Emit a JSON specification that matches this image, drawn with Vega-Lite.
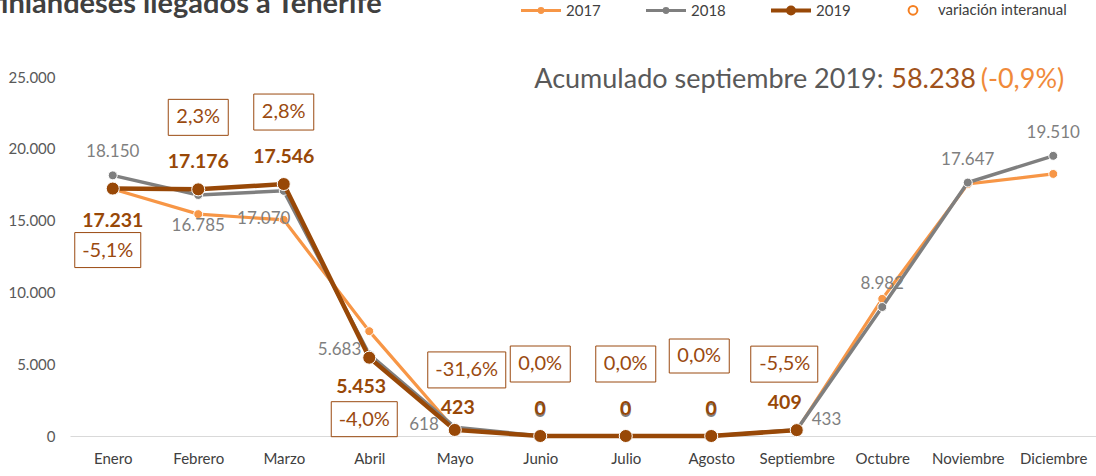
{
  "$schema": "https://vega.github.io/schema/vega-lite/v6.json",
  "width": 1026,
  "height": 359,
  "autosize": "none",
  "padding": {"left": 70, "top": 77, "right": 0, "bottom": 40},
  "background": "white",
  "config": {
    "locale": {"number": {"decimal": ",", "thousands": ".", "grouping": [3], "currency": ["", " €"], "minus": "-"}},
    "view": {"stroke": null},
    "font": "Lato",
    "text": {"font": "Lato"}
  },
  "datasets": {
    "meses": [
      {"mes": "Enero", "v2017": 17200, "v2018": 18150, "v2019": 17231, "variacion": -0.051},
      {"mes": "Febrero", "v2017": 15450, "v2018": 16785, "v2019": 17176, "variacion": 0.023},
      {"mes": "Marzo", "v2017": 15050, "v2018": 17070, "v2019": 17546, "variacion": 0.028},
      {"mes": "Abril", "v2017": 7300, "v2018": 5683, "v2019": 5453, "variacion": -0.040},
      {"mes": "Mayo", "v2017": 450, "v2018": 618, "v2019": 423, "variacion": -0.316},
      {"mes": "Junio", "v2017": 0, "v2018": 0, "v2019": 0, "variacion": 0},
      {"mes": "Julio", "v2017": 0, "v2018": 0, "v2019": 0, "variacion": 0},
      {"mes": "Agosto", "v2017": 0, "v2018": 0, "v2019": 0, "variacion": 0},
      {"mes": "Septiembre", "v2017": 400, "v2018": 433, "v2019": 409, "variacion": -0.055},
      {"mes": "Octubre", "v2017": 9550, "v2018": 8982, "v2019": null, "variacion": null},
      {"mes": "Noviembre", "v2017": 17550, "v2018": 17647, "v2019": null, "variacion": null},
      {"mes": "Diciembre", "v2017": 18250, "v2018": 19510, "v2019": null, "variacion": null}
    ],
    "nota": [{"titulo": "Turistas finlandeses llegados a Tenerife", "texto": "Acumulado septiembre 2019:", "cifra": "58.238", "variacion": "(-0,9%)"}]
  },
  "data": {"name": "meses"},
  "layer": [
    {
      "mark": {"type": "line", "color": "#F79646", "strokeWidth": 3.2, "point": {"filled": true, "fill": "#F79646", "stroke": "white", "strokeWidth": 1, "size": 80, "opacity": 1}},
      "encoding": {
        "x": {"field": "mes", "type": "ordinal", "title": null,
          "scale": {"type": "point", "padding": 0.5, "domain": ["Enero","Febrero","Marzo","Abril","Mayo","Junio","Julio","Agosto","Septiembre","Octubre","Noviembre","Diciembre"]},
          "axis": {"labelAngle": 0, "ticks": false, "domainColor": "#D9D9D9", "domainWidth": 1, "grid": false, "labelFont": "Lato", "labelFontSize": 15, "labelColor": "#404040", "labelPadding": 15}},
        "y": {"field": "v2017", "type": "quantitative", "title": null,
          "scale": {"domain": [0, 25000], "nice": false},
          "axis": {"values": [0, 5000, 10000, 15000, 20000, 25000], "format": ",d", "domain": false, "ticks": false, "grid": false, "labelFont": "Lato", "labelFontSize": 15, "labelColor": "#595959", "labelPadding": 15}}
      }
    },
    {
      "mark": {"type": "line", "color": "#7F7F7F", "strokeWidth": 3.5, "point": {"filled": true, "fill": "#7F7F7F", "stroke": "white", "strokeWidth": 1, "size": 80, "opacity": 1}},
      "encoding": {
        "x": {"field": "mes", "type": "ordinal"},
        "y": {"field": "v2018", "type": "quantitative", "title": null}
      }
    },
    {
      "mark": {"type": "line", "color": "#984807", "strokeWidth": 4.5, "point": {"filled": true, "fill": "#984807", "stroke": "white", "strokeWidth": 1, "size": 170, "opacity": 1}},
      "encoding": {
        "x": {"field": "mes", "type": "ordinal"},
        "y": {"field": "v2019", "type": "quantitative", "title": null}
      }
    },
    {
      "transform": [{"filter": {"field": "mes", "oneOf": ["Enero", "Octubre", "Noviembre", "Diciembre"]}}],
      "mark": {"type": "text", "font": "Lato", "fontSize": 17, "color": "#7F7F7F", "baseline": "middle", "dy": -23},
      "encoding": {"x": {"field": "mes", "type": "ordinal"}, "y": {"field": "v2018", "type": "quantitative"}, "text": {"field": "v2018", "type": "quantitative", "format": ",d"}}
    },
    {
      "transform": [{"filter": {"field": "mes", "oneOf": ["Junio", "Julio", "Agosto"]}}],
      "mark": {"type": "text", "font": "Lato", "fontSize": 19.5, "fontWeight": "bold", "color": "#7F7F7F", "baseline": "middle", "dy": -25.5},
      "encoding": {"x": {"field": "mes", "type": "ordinal"}, "y": {"field": "v2018", "type": "quantitative"}, "text": {"field": "v2018", "type": "quantitative", "format": ",d"}}
    },
    {
      "transform": [{"filter": {"field": "mes", "equal": "Febrero"}}],
      "mark": {"type": "text", "font": "Lato", "fontSize": 17, "color": "#7F7F7F", "baseline": "middle", "dy": 31},
      "encoding": {"x": {"field": "mes", "type": "ordinal"}, "y": {"field": "v2018", "type": "quantitative"}, "text": {"field": "v2018", "type": "quantitative", "format": ",d"}}
    },
    {
      "transform": [{"filter": {"field": "mes", "equal": "Marzo"}}],
      "mark": {"type": "text", "font": "Lato", "fontSize": 17, "color": "#7F7F7F", "baseline": "middle", "dx": -20, "dy": 28},
      "encoding": {"x": {"field": "mes", "type": "ordinal"}, "y": {"field": "v2018", "type": "quantitative"}, "text": {"field": "v2018", "type": "quantitative", "format": ",d"}}
    },
    {
      "transform": [{"filter": {"field": "mes", "equal": "Abril"}}],
      "mark": {"type": "text", "font": "Lato", "fontSize": 17, "color": "#7F7F7F", "baseline": "middle", "align": "right", "dx": -8, "dy": -4},
      "encoding": {"x": {"field": "mes", "type": "ordinal"}, "y": {"field": "v2018", "type": "quantitative"}, "text": {"field": "v2018", "type": "quantitative", "format": ",d"}}
    },
    {
      "transform": [{"filter": {"field": "mes", "equal": "Mayo"}}],
      "mark": {"type": "text", "font": "Lato", "fontSize": 17, "color": "#7F7F7F", "baseline": "middle", "align": "right", "dx": -16, "dy": -2},
      "encoding": {"x": {"field": "mes", "type": "ordinal"}, "y": {"field": "v2018", "type": "quantitative"}, "text": {"field": "v2018", "type": "quantitative", "format": ",d"}}
    },
    {
      "transform": [{"filter": {"field": "mes", "equal": "Septiembre"}}],
      "mark": {"type": "text", "font": "Lato", "fontSize": 17, "color": "#7F7F7F", "baseline": "middle", "align": "left", "dx": 15, "dy": -10},
      "encoding": {"x": {"field": "mes", "type": "ordinal"}, "y": {"field": "v2018", "type": "quantitative"}, "text": {"field": "v2018", "type": "quantitative", "format": ",d"}}
    },
    {
      "transform": [{"filter": {"field": "mes", "oneOf": ["Febrero", "Marzo", "Junio", "Julio", "Agosto"]}}],
      "mark": {"type": "text", "font": "Lato", "fontSize": 19.5, "fontWeight": "bold", "color": "#984807", "baseline": "middle", "dy": -27},
      "encoding": {"x": {"field": "mes", "type": "ordinal"}, "y": {"field": "v2019", "type": "quantitative"}, "text": {"field": "v2019", "type": "quantitative", "format": ",d"}}
    },
    {
      "transform": [{"filter": {"field": "mes", "equal": "Mayo"}}],
      "mark": {"type": "text", "font": "Lato", "fontSize": 19.5, "fontWeight": "bold", "color": "#984807", "baseline": "middle", "dx": 3, "dy": -22},
      "encoding": {"x": {"field": "mes", "type": "ordinal"}, "y": {"field": "v2019", "type": "quantitative"}, "text": {"field": "v2019", "type": "quantitative", "format": ",d"}}
    },
    {
      "transform": [{"filter": {"field": "mes", "equal": "Septiembre"}}],
      "mark": {"type": "text", "font": "Lato", "fontSize": 19.5, "fontWeight": "bold", "color": "#984807", "baseline": "middle", "dx": -12, "dy": -27},
      "encoding": {"x": {"field": "mes", "type": "ordinal"}, "y": {"field": "v2019", "type": "quantitative"}, "text": {"field": "v2019", "type": "quantitative", "format": ",d"}}
    },
    {
      "transform": [{"filter": {"field": "mes", "equal": "Enero"}}],
      "mark": {"type": "text", "font": "Lato", "fontSize": 19.5, "fontWeight": "bold", "color": "#984807", "baseline": "middle", "dy": 32},
      "encoding": {"x": {"field": "mes", "type": "ordinal"}, "y": {"field": "v2019", "type": "quantitative"}, "text": {"field": "v2019", "type": "quantitative", "format": ",d"}}
    },
    {
      "transform": [{"filter": {"field": "mes", "equal": "Abril"}}],
      "mark": {"type": "text", "font": "Lato", "fontSize": 19.5, "fontWeight": "bold", "color": "#984807", "baseline": "middle", "dx": -8, "dy": 29},
      "encoding": {"x": {"field": "mes", "type": "ordinal"}, "y": {"field": "v2019", "type": "quantitative"}, "text": {"field": "v2019", "type": "quantitative", "format": ",d"}}
    },
    {
      "transform": [{"filter": {"field": "mes", "oneOf": ["Enero", "Abril"]}}],
      "mark": {"type": "rect", "fillOpacity": 0, "stroke": "#9A4A10", "strokeWidth": 1, "xOffset": -38, "x2Offset": 28, "yOffset": 44, "y2Offset": 79},
      "encoding": {"x": {"field": "mes", "type": "ordinal"}, "x2": {"field": "mes"}, "y": {"field": "v2019", "type": "quantitative"}, "y2": {"field": "v2019"}}
    },
    {
      "transform": [{"filter": {"field": "mes", "oneOf": ["Enero", "Abril"]}}],
      "mark": {"type": "text", "font": "Lato", "fontSize": 20, "color": "#9A4A10", "baseline": "middle", "dx": -5, "dy": 62},
      "encoding": {"x": {"field": "mes", "type": "ordinal"}, "y": {"field": "v2019", "type": "quantitative"}, "text": {"field": "variacion", "type": "quantitative", "format": ".1%"}}
    },
    {
      "transform": [{"filter": {"field": "mes", "oneOf": ["Febrero", "Marzo", "Junio", "Julio"]}}],
      "mark": {"type": "rect", "fillOpacity": 0, "stroke": "#9A4A10", "strokeWidth": 1, "xOffset": -30, "x2Offset": 30, "yOffset": -90, "y2Offset": -54},
      "encoding": {"x": {"field": "mes", "type": "ordinal"}, "x2": {"field": "mes"}, "y": {"field": "v2019", "type": "quantitative"}, "y2": {"field": "v2019"}}
    },
    {
      "transform": [{"filter": {"field": "mes", "oneOf": ["Febrero", "Marzo", "Junio", "Julio"]}}],
      "mark": {"type": "text", "font": "Lato", "fontSize": 20, "color": "#9A4A10", "baseline": "middle", "dy": -72},
      "encoding": {"x": {"field": "mes", "type": "ordinal"}, "y": {"field": "v2019", "type": "quantitative"}, "text": {"field": "variacion", "type": "quantitative", "format": ".1%"}}
    },
    {
      "transform": [{"filter": {"field": "mes", "equal": "Mayo"}}],
      "mark": {"type": "rect", "fillOpacity": 0, "stroke": "#9A4A10", "strokeWidth": 1, "xOffset": -27, "x2Offset": 51, "yOffset": -78, "y2Offset": -42},
      "encoding": {"x": {"field": "mes", "type": "ordinal"}, "x2": {"field": "mes"}, "y": {"field": "v2019", "type": "quantitative"}, "y2": {"field": "v2019"}}
    },
    {
      "transform": [{"filter": {"field": "mes", "equal": "Mayo"}}],
      "mark": {"type": "text", "font": "Lato", "fontSize": 20, "color": "#9A4A10", "baseline": "middle", "dx": 12, "dy": -60},
      "encoding": {"x": {"field": "mes", "type": "ordinal"}, "y": {"field": "v2019", "type": "quantitative"}, "text": {"field": "variacion", "type": "quantitative", "format": ".1%"}}
    },
    {
      "transform": [{"filter": {"field": "mes", "equal": "Agosto"}}],
      "mark": {"type": "rect", "fillOpacity": 0, "stroke": "#9A4A10", "strokeWidth": 1, "xOffset": -42, "x2Offset": 18, "yOffset": -97, "y2Offset": -63},
      "encoding": {"x": {"field": "mes", "type": "ordinal"}, "x2": {"field": "mes"}, "y": {"field": "v2019", "type": "quantitative"}, "y2": {"field": "v2019"}}
    },
    {
      "transform": [{"filter": {"field": "mes", "equal": "Agosto"}}],
      "mark": {"type": "text", "font": "Lato", "fontSize": 20, "color": "#9A4A10", "baseline": "middle", "dx": -12, "dy": -80},
      "encoding": {"x": {"field": "mes", "type": "ordinal"}, "y": {"field": "v2019", "type": "quantitative"}, "text": {"field": "variacion", "type": "quantitative", "format": ".1%"}}
    },
    {
      "transform": [{"filter": {"field": "mes", "equal": "Septiembre"}}],
      "mark": {"type": "rect", "fillOpacity": 0, "stroke": "#9A4A10", "strokeWidth": 1, "xOffset": -46, "x2Offset": 21, "yOffset": -84, "y2Offset": -48},
      "encoding": {"x": {"field": "mes", "type": "ordinal"}, "x2": {"field": "mes"}, "y": {"field": "v2019", "type": "quantitative"}, "y2": {"field": "v2019"}}
    },
    {
      "transform": [{"filter": {"field": "mes", "equal": "Septiembre"}}],
      "mark": {"type": "text", "font": "Lato", "fontSize": 20, "color": "#9A4A10", "baseline": "middle", "dx": -12, "dy": -66},
      "encoding": {"x": {"field": "mes", "type": "ordinal"}, "y": {"field": "v2019", "type": "quantitative"}, "text": {"field": "variacion", "type": "quantitative", "format": ".1%"}}
    },
    {
      "data": {"name": "nota"},
      "mark": {"type": "text", "font": "Lato", "fontSize": 29, "fontWeight": "bold", "color": "#404040", "align": "right", "baseline": "alphabetic", "dx": 269, "dy": -64},
      "encoding": {"x": {"datum": "Enero", "type": "ordinal"}, "y": {"datum": 25000, "type": "quantitative"}, "text": {"field": "titulo"}}
    },
    {
      "data": {"name": "nota"},
      "mark": {"type": "text", "font": "Lato", "fontSize": 27, "color": "#595959", "align": "left", "baseline": "alphabetic", "dx": -519, "dy": 11},
      "encoding": {"x": {"datum": "Diciembre", "type": "ordinal"}, "y": {"datum": 25000, "type": "quantitative"}, "text": {"field": "texto"}}
    },
    {
      "data": {"name": "nota"},
      "mark": {"type": "text", "font": "Lato", "fontSize": 27, "color": "#A0521C", "align": "left", "baseline": "alphabetic", "dx": -162, "dy": 11},
      "encoding": {"x": {"datum": "Diciembre", "type": "ordinal"}, "y": {"datum": 25000, "type": "quantitative"}, "text": {"field": "cifra"}}
    },
    {
      "data": {"name": "nota"},
      "mark": {"type": "text", "font": "Lato", "fontSize": 27, "color": "#F08A3A", "align": "right", "baseline": "alphabetic", "dx": 11, "dy": 11},
      "encoding": {"x": {"datum": "Diciembre", "type": "ordinal"}, "y": {"datum": 25000, "type": "quantitative"}, "text": {"field": "variacion"}}
    },
    {
      "transform": [{"filter": "false"}],
      "mark": {"type": "point", "filled": false, "opacity": 1},
      "encoding": {
        "color": {"field": "serie", "type": "nominal",
          "scale": {"domain": ["2017", "2018", "2019", "variación interanual"], "range": ["#F79646", "#7F7F7F", "#984807", "#F57F20"]},
          "legend": {"orient": "none", "legendX": 450, "legendY": -88, "direction": "horizontal", "title": null, "symbolSize": 1600, "symbolStrokeWidth": 2, "labelFont": "Lato", "labelFontSize": 15, "labelColor": "#404040", "labelOffset": 4, "columnPadding": 41, "padding": 0, "labelLimit": 300}},
        "shape": {"field": "serie", "type": "nominal",
          "scale": {"domain": ["2017", "2018", "2019", "variación interanual"], "range": [
            "M-1,-0.025H1M-1,0.025H1M0.12,0A0.12,0.12,0,1,1,-0.12,0A0.12,0.12,0,1,1,0.12,0ZM0.04,0A0.04,0.04,0,1,1,-0.04,0A0.04,0.04,0,1,1,0.04,0Z",
            "M-1,-0.025H1M-1,0.025H1M0.12,0A0.12,0.12,0,1,1,-0.12,0A0.12,0.12,0,1,1,0.12,0ZM0.04,0A0.04,0.04,0,1,1,-0.04,0A0.04,0.04,0,1,1,0.04,0Z",
            "M-1,-0.05H1M-1,0H1M-1,0.05H1M0.2,0A0.2,0.2,0,1,1,-0.2,0A0.2,0.2,0,1,1,0.2,0ZM0.1,0A0.1,0.1,0,1,1,-0.1,0A0.1,0.1,0,1,1,0.1,0ZM0.03,0A0.03,0.03,0,1,1,-0.03,0A0.03,0.03,0,1,1,0.03,0Z",
            "M0.22,0A0.22,0.22,0,1,1,-0.22,0A0.22,0.22,0,1,1,0.22,0Z"]}}
      }
    }
  ]
}
